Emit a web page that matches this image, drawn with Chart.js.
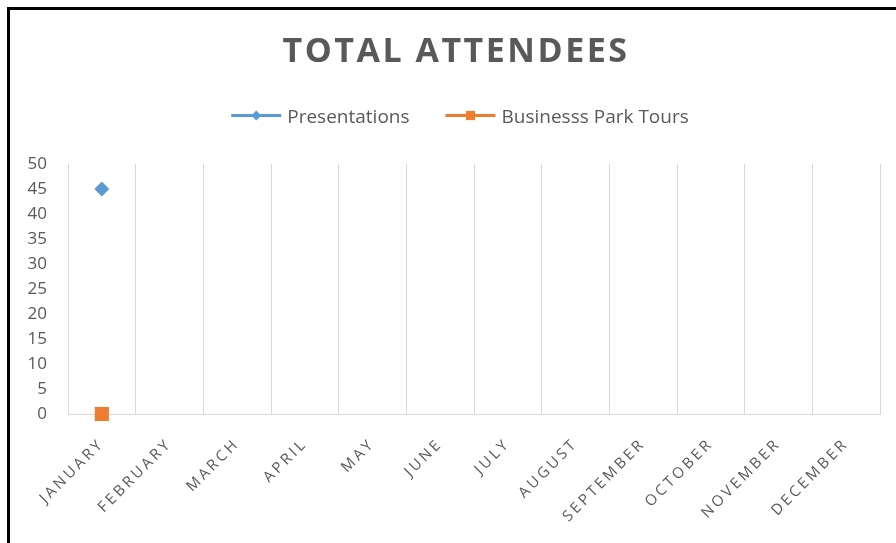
<!DOCTYPE html>
<html>
<head>
<meta charset="utf-8">
<title>Total Attendees</title>
<script src="https://cdn.jsdelivr.net/npm/chart.js@4.4.1/dist/chart.umd.min.js"></script>
<style>
  html, body { margin: 0; padding: 0; background: #ffffff; }
  #wrap { position: relative; width: 896px; height: 543px; overflow: hidden; }
  #frame {
    position: absolute; left: 7px; top: 7px; right: -10px; bottom: -10px;
    border-top: 3px solid #000; border-left: 3px solid #000;
    pointer-events: none;
  }
</style>
</head>
<body>
<div id="wrap">
  <canvas id="chart" width="896" height="543"></canvas>
  <div id="frame"></div>
</div>
<script>
// ---- data ----
const chartTitle = 'TOTAL ATTENDEES';
const months = ['JANUARY', 'FEBRUARY', 'MARCH', 'APRIL', 'MAY', 'JUNE',
                'JULY', 'AUGUST', 'SEPTEMBER', 'OCTOBER', 'NOVEMBER', 'DECEMBER'];
const seriesNames = ['Presentations', 'Businesss Park Tours'];
const presentations = [45, null, null, null, null, null, null, null, null, null, null, null];
const parkTours = [0, null, null, null, null, null, null, null, null, null, null, null];
const yMin = 0, yMax = 50, yStep = 5;

// ---- styling ----
const TEXT = '#595959';
const GRID = '#d9d9d9';
const FONT = "'Open Sans', 'Noto Sans', sans-serif";
const COLORS = ['#5b9bd5', '#ed7d31'];
const MARKERS = [
  { style: 'rectRot', radius: 7.5, legendRadius: 5 },
  { style: 'rect', radius: 10, legendRadius: 6.5 }
];

// Month labels (drawn after datasets, z = 1) use expanded letter spacing.
const spacedTicks = {
  id: 'spacedTicks',
  afterDatasetsDraw(chart) { chart.ctx.letterSpacing = '3px'; },
  afterDraw(chart) { chart.ctx.letterSpacing = '0px'; }
};

// Heading and line+marker legend above the plot.
const heading = {
  id: 'heading',
  afterDraw(chart) {
    const ctx = chart.ctx;
    const centerX = 456;
    ctx.save();
    ctx.fillStyle = TEXT;
    ctx.textBaseline = 'alphabetic';

    ctx.letterSpacing = '2.5px';
    ctx.font = `bold 34px ${FONT}`;
    ctx.textAlign = 'center';
    ctx.fillText(chartTitle, centerX, 62);

    ctx.letterSpacing = '0px';
    ctx.font = `19px ${FONT}`;
    ctx.textAlign = 'left';
    const lineW = 50, textGap = 6, itemGap = 36, y = 115.5;
    const items = chart.data.datasets.map((ds, i) => ({
      text: ds.label, color: ds.borderColor, marker: MARKERS[i],
      w: lineW + textGap + ctx.measureText(ds.label).width
    }));
    const total = items.reduce((s, it) => s + it.w, 0) + itemGap * (items.length - 1);
    let x = centerX + 4 - total / 2;
    items.forEach(it => {
      ctx.strokeStyle = it.color;
      ctx.lineWidth = 3;
      ctx.beginPath();
      ctx.moveTo(x, y);
      ctx.lineTo(x + lineW, y);
      ctx.stroke();
      ctx.fillStyle = it.color;
      Chart.helpers.drawPoint(ctx, {
        pointStyle: it.marker.style, radius: it.marker.legendRadius,
        rotation: 0, borderWidth: 0
      }, x + lineW / 2, y);
      ctx.fillStyle = TEXT;
      ctx.fillText(it.text, x + lineW + textGap, y + 7);
      x += it.w + itemGap;
    });
    ctx.restore();
  }
};

const datasets = [presentations, parkTours].map((values, i) => ({
  label: seriesNames[i],
  data: values,
  borderColor: COLORS[i],
  backgroundColor: COLORS[i],
  pointBackgroundColor: COLORS[i],
  pointBorderColor: COLORS[i],
  pointStyle: MARKERS[i].style,
  pointRadius: MARKERS[i].radius,
  pointBorderWidth: 0,
  borderWidth: 2.5,
  spanGaps: false,
  clip: false
}));

new Chart(document.getElementById('chart'), {
  type: 'line',
  data: { labels: months, datasets },
  options: {
    responsive: false,
    animation: false,
    devicePixelRatio: 1,
    layout: { padding: { top: 164, right: 16, bottom: 0, left: 0 } },
    plugins: {
      legend: { display: false },
      title: { display: false },
      tooltip: { enabled: false }
    },
    scales: {
      x: {
        offset: true,
        grid: { offset: true, color: GRID, lineWidth: 1, drawTicks: false },
        border: { display: true, color: GRID, width: 1 },
        ticks: {
          z: 1, autoSkip: false, minRotation: 45, maxRotation: 45,
          padding: 21, color: TEXT, font: { family: FONT, size: 15 }
        },
        afterFit(scale) { scale.height = 129; }
      },
      y: {
        min: yMin, max: yMax,
        grid: { display: false, drawTicks: false },
        border: { display: false },
        ticks: {
          stepSize: yStep, padding: 21, color: TEXT,
          font: { family: FONT, size: 17 }
        },
        afterFit(scale) { scale.width = 68; }
      }
    }
  },
  plugins: [spacedTicks, heading]
});
</script>
</body>
</html>
